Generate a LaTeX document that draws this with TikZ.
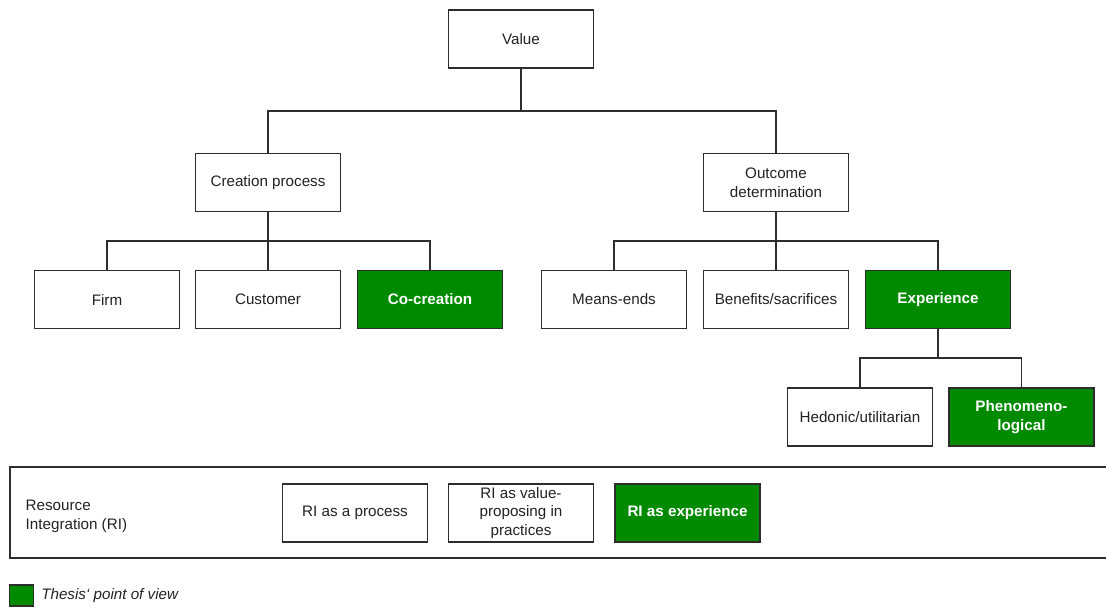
\documentclass[tikz,border=0pt]{standalone}
\usepackage{fontspec}
\setmainfont{Liberation Sans}
\definecolor{thesisgreen}{RGB}{0,138,0}
\definecolor{linegray}{RGB}{45,45,45}
\definecolor{textgray}{RGB}{34,34,34}
\tikzset{
  box/.style={draw=linegray, line width=1.1pt, fill=white, text=textgray,
    minimum width=109pt, minimum height=43.5pt, inner sep=2pt,
    align=center, font=\fontsize{11.4}{14.2}\selectfont},
  greenbox/.style={box, fill=thesisgreen, text=white,
    font=\fontsize{11.4}{14.2}\selectfont\bfseries},
  link/.style={draw=linegray, line width=1.1pt},
  plain/.style={text=textgray, align=left, font=\fontsize{11.4}{14.2}\selectfont}
}
\begin{document}
\begin{tikzpicture}[x=0.75pt,y=-0.75pt]
\useasboundingbox (0,0) rectangle (1106,608);

% Top of the hierarchy
\node[box] (value) at (521,39) {Value};
\node[box] (creation) at (268,182.5) {Creation process};
\node[box] (outcome) at (776,182.5) {Outcome\\determination};

% Creation process branch
\node[box] (firm) at (107,299.5) {Firm};
\node[box] (customer) at (268,299.5) {Customer};
\node[greenbox] (cocreation) at (430,299.5) {Co-creation};

% Outcome determination branch
\node[box] (means) at (614,299.5) {Means-ends};
\node[box] (benefits) at (776,299.5) {Benefits/sacrifices};
\node[greenbox] (experience) at (938,299.5) {Experience};

% Experience branch
\node[box] (hedonic) at (860,417) {Hedonic/utilitarian};
\node[greenbox] (phen) at (1021.5,417) {Phenomeno-\\logical};

% Junction points of the elbow connectors
\coordinate (j1) at (521,111);
\coordinate (j2) at (268,241);
\coordinate (j3) at (776,241);
\coordinate (j4) at (938,358);

\draw[link] (value.south) -- (j1);
\draw[link] (creation.north) |- (j1) -| (outcome.north);
\draw[link] (creation.south) -- (customer.north);
\draw[link] (firm.north) |- (j2) -| (cocreation.north);
\draw[link] (outcome.south) -- (benefits.north);
\draw[link] (means.north) |- (j3) -| (experience.north);
\draw[link] (experience.south) -- (j4);
\draw[link] (hedonic.north) |- (j4) -| (phen.north);

% Resource integration band
\draw[link] (1112,467) -- (10,467) -- (10,558) -- (1112,558);
\node[plain, anchor=west] (ri) at (21,516) {Resource\\Integration (RI)};
\node[box] (riprocess) at (355,513) {RI as a process};
\node[box] (rivalue) at (521,513) {RI as value-\\proposing in\\practices};
\node[greenbox] (riexp) at (687.5,513) {RI as experience};

% Legend
\node[draw=linegray, line width=1.1pt, fill=thesisgreen,
  minimum width=18pt, minimum height=15.5pt, inner sep=0pt] (legbox) at (21.5,595.5) {};
\node[plain, anchor=west, inner sep=0pt,
  font=\fontsize{11.4}{14.2}\selectfont\itshape] (legtext) at (41,595.5) {Thesis‘ point of view};
\end{tikzpicture}
\end{document}
